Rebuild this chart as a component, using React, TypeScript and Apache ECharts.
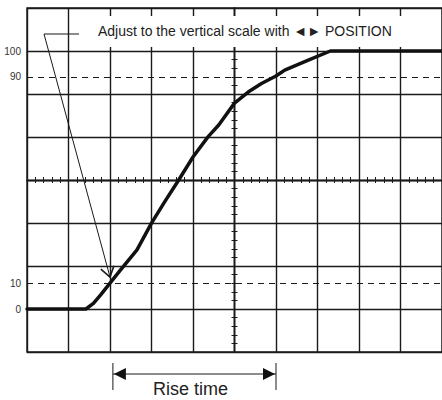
import React, { useEffect, useRef } from 'react';
import * as echarts from 'echarts';

// Waveform (x in horizontal divisions, y in % of amplitude)
const waveX = [0, 1.42, 1.6, 1.78, 2.0, 2.25, 2.65, 3.0, 3.32, 3.64, 4.0, 4.36, 4.62, 5.0, 5.33, 5.65, 6.0, 6.21, 6.75, 7.31, 10];
const waveY = [0, 0, 2.2, 5.6, 10.0, 15.1, 22.9, 33.3, 41.6, 49.6, 58.9, 66.7, 71.3, 79.8, 84.1, 87.4, 90.3, 92.6, 96.3, 100, 100];

// Vertical-scale labels and the dashed reference levels
const levelValues = [0, 10, 90, 100];
const levelLabels = ['0', '10', '90', '100'];
const dashedLevels = [10, 90];

// Rise-time span (divisions) and where the leader arrow points
const riseStart = 2.07;
const riseEnd = 6.0;
const arrowTip = [2.0, 12.4];

const annotationText = 'Adjust to the vertical scale with \u25C4\u25BA POSITION';
const riseLabel = 'Rise time';

const INK = '#1a1a1a';
const FONT = "'Liberation Sans', Arial, Helvetica, sans-serif";

export default function App() {
  const ref = useRef<HTMLDivElement>(null);

  useEffect(() => {
    if (!ref.current) return;
    const chart = echarts.init(ref.current, null, { renderer: 'svg' });
    const div = 100 / 6;
    const gridLine = { color: INK, width: 1.4 };

    const tickAxisX = (inside: boolean) => ({
      type: 'value', min: -5, max: 5, interval: 1, position: 'bottom',
      axisLine: { show: true, onZero: true, onZeroAxisIndex: 2, lineStyle: { color: INK, width: 1.4 } },
      axisTick: { show: true, inside, length: 3, lineStyle: { color: INK, width: 1 } },
      minorTick: { show: true, splitNumber: 5, length: 3, lineStyle: { color: INK, width: 1 } },
      axisLabel: { show: false }, splitLine: { show: false }, minorSplitLine: { show: false },
    });
    const tickAxisY = (inside: boolean) => ({
      type: 'value', min: -4, max: 4, interval: 1, position: 'left',
      axisLine: { show: true, onZero: true, onZeroAxisIndex: 1, lineStyle: { color: INK, width: 1.4 } },
      axisTick: { show: true, inside, length: 3, lineStyle: { color: INK, width: 1 } },
      minorTick: { show: true, splitNumber: 5, length: 3, lineStyle: { color: INK, width: 1 } },
      axisLabel: { show: false }, splitLine: { show: false }, minorSplitLine: { show: false },
    });

    chart.setOption({
      animation: false,
      backgroundColor: '#fff',
      grid: { left: 27, top: 8, width: 420, height: 344, show: true, borderColor: INK, borderWidth: 1.4, backgroundColor: 'transparent' },
      xAxis: [
        {
          type: 'value', min: 0, max: 10, interval: 1,
          axisLine: { show: false, onZero: false }, axisTick: { show: false }, axisLabel: { show: false },
          splitLine: { show: true, lineStyle: gridLine },
        },
        tickAxisX(true),
        tickAxisX(false),
      ],
      yAxis: [
        {
          type: 'value', min: -div, max: 7 * div, interval: div,
          axisLine: { show: false, onZero: false }, axisTick: { show: false },
          axisLabel: {
            show: true, customValues: levelValues, margin: 6,
            formatter: (v: number) => {
              const i = levelValues.findIndex((l) => Math.abs(l - v) < 0.01);
              return i >= 0 ? levelLabels[i] : '';
            },
            color: '#333', fontSize: 10, fontFamily: "'Liberation Sans Narrow', 'Liberation Sans', Arial, sans-serif",
          },
          splitLine: { show: true, lineStyle: gridLine },
        },
        { type: 'value', min: -1, max: 1, show: false },
        tickAxisY(true),
        tickAxisY(false),
      ],
      series: [
        {
          type: 'line',
          xAxisIndex: 0, yAxisIndex: 0,
          data: waveX.map((x, i) => [x, waveY[i]]),
          showSymbol: false, symbol: 'none',
          smooth: false,
          lineStyle: { color: '#111', width: 3.5, join: 'round', cap: 'round' },
          z: 5,
          markLine: {
            silent: true, symbol: 'none', label: { show: false },
            lineStyle: { color: INK, width: 1, type: [6, 5] },
            data: dashedLevels.map((v) => ({ yAxis: v })),
          },
        },
      ],
    });

    const px = (x: number, y: number) => chart.convertToPixel({ seriesIndex: 0 }, [x, y]) as number[];
    const tip = px(arrowTip[0], arrowTip[1]);
    const start = [44, 34];
    const dx = start[0] - tip[0];
    const dy = start[1] - tip[1];
    const ang = Math.atan2(dy, dx);
    const armLen = 12;
    const arm = (a: number) => [tip[0] + armLen * Math.cos(ang + a), tip[1] + armLen * Math.sin(ang + a)];
    const xs = px(riseStart, 0)[0];
    const xe = px(riseEnd, 0)[0];
    const yArrow = 374;

    chart.setOption({
      graphic: [
        { type: 'rect', shape: { x: 82, y: 16, width: 340, height: 31 }, style: { fill: '#fff' }, z: 100 },
        {
          type: 'text', x: 98, y: 31, z: 101,
          style: { text: annotationText, font: `14px ${FONT}`, fill: '#222', verticalAlign: 'middle', align: 'left' },
        },
        { type: 'line', shape: { x1: start[0], y1: start[1], x2: 79, y2: start[1] }, style: { stroke: INK, lineWidth: 1.2 }, z: 101 },
        { type: 'line', shape: { x1: start[0], y1: start[1], x2: tip[0], y2: tip[1] }, style: { stroke: INK, lineWidth: 1 }, z: 101 },
        {
          type: 'polyline', z: 101,
          shape: { points: [arm(-0.6), tip, arm(0.6)] },
          style: { stroke: INK, lineWidth: 1.6, fill: 'none' },
        },
        { type: 'line', shape: { x1: xs, y1: 363, x2: xs, y2: 390 }, style: { stroke: INK, lineWidth: 1 }, z: 101 },
        { type: 'line', shape: { x1: xe, y1: 363, x2: xe, y2: 390 }, style: { stroke: INK, lineWidth: 1 }, z: 101 },
        { type: 'line', shape: { x1: xs, y1: yArrow, x2: xe, y2: yArrow }, style: { stroke: INK, lineWidth: 1 }, z: 101 },
        {
          type: 'polygon', z: 101,
          shape: { points: [[xs + 1, yArrow], [xs + 13, yArrow - 6], [xs + 13, yArrow + 6]] },
          style: { fill: '#111' },
        },
        {
          type: 'polygon', z: 101,
          shape: { points: [[xe - 1, yArrow], [xe - 13, yArrow - 6], [xe - 13, yArrow + 6]] },
          style: { fill: '#111' },
        },
        {
          type: 'text', x: 153, y: 389, z: 101,
          style: { text: riseLabel, font: `18px ${FONT}`, fill: '#222', verticalAlign: 'middle', align: 'left' },
        },
      ],
    });

    return () => chart.dispose();
  }, []);

  return (
    <div
      ref={ref}
      style={{ position: 'fixed', left: 0, top: 0, width: 442, height: 400, background: '#fff' }}
    />
  );
}
